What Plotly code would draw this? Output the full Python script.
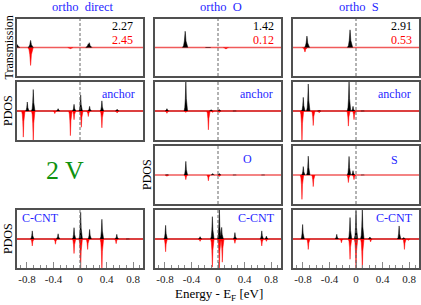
import plotly.graph_objects as go

W, H = 421, 305

# ---------------- data ----------------
E_RANGE = [-0.95, 0.95]
TICK_VALS = [-0.8, -0.4, 0, 0.4, 0.8]
TICK_TEXT = ["-0.8", "-0.4", "0", "0.4", "0.8"]
MINOR_TICKS = [-0.9, -0.7, -0.6, -0.5, -0.3, -0.2, -0.1, 0.1, 0.2, 0.3, 0.5, 0.6, 0.7, 0.9]

COL_TITLES = ["ortho  direct", "ortho  O", "ortho  S"]
T_BLACK = ["2.27", "1.42", "2.91"]
T_RED = ["2.45", "0.12", "0.53"]

# ortho direct
DIR_T_UP_E = [-0.945, -0.745, 0.125, 0.14]
DIR_T_UP_H = [0.10, 0.25, 0.13, 0.17]
DIR_T_DN_E = [-0.745, -0.145]
DIR_T_DN_H = [-0.63, -0.04]
DIR_A_UP_E = [-0.795, -0.705, -0.33, -0.09, 0.01, 0.145, 0.33, 0.56]
DIR_A_UP_H = [0.31, 0.74, 0.08, 0.23, 0.55, 0.16, 0.35, 0.06]
DIR_A_DN_E = [-0.855, -0.705, -0.38, -0.145, -0.09, 0.02, 0.125, 0.33, 0.56]
DIR_A_DN_H = [-0.90, -1.05, -0.09, -0.85, -0.30, -0.56, -0.19, -0.58, -0.07]
DIR_C_UP_E = [-0.72, -0.33, -0.09, 0.01, 0.145, 0.33, 0.555, 0.72]
DIR_C_UP_H = [0.28, 0.18, 0.39, 0.92, 0.33, 0.68, 0.16, 0.02]
DIR_C_DN_E = [-0.72, -0.37, -0.09, 0.01, 0.115, 0.33, 0.545]
DIR_C_DN_H = [-0.24, -0.18, -0.50, -1.05, -0.36, -1.05, -0.16]

# ortho O
O_T_UP_E = [-0.495, -0.15]
O_T_UP_H = [0.57, 0.02]
O_T_DN_E = [0.12]
O_T_DN_H = [-0.06]
O_A_UP_E = [-0.77, -0.485, -0.105, 0.02, 0.25]
O_A_UP_H = [0.08, 1.05, 0.04, 0.05, 0.02]
O_A_DN_E = [-0.77, -0.485, -0.145, -0.08, 0.02]
O_A_DN_H = [-0.08, -0.05, -0.65, -0.05, -0.05]
O_O_UP_E = [-0.77, -0.485, -0.08, 0.02, 0.25, 0.68]
O_O_UP_H = [0.03, 0.47, 0.05, 0.05, 0.02, 0.02]
O_O_DN_E = [-0.77, -0.485, -0.145, 0.02]
O_O_DN_H = [-0.04, -0.16, -0.20, -0.05]
O_C_UP_E = [-0.79, -0.27, -0.085, 0.02, 0.055, 0.255, 0.66, 0.73]
O_C_UP_H = [0.47, 0.08, 0.77, 1.05, 0.40, 0.22, 0.28, 0.10]
O_C_DN_E = [-0.79, -0.27, -0.085, 0.02, 0.065, 0.255, 0.66, 0.73]
O_C_DN_H = [-0.44, -0.08, -0.97, -1.05, -0.80, -0.15, -0.24, -0.08]

# ortho S
S_T_UP_E = [-0.74, -0.09]
S_T_UP_H = [0.40, 0.62]
S_T_DN_E = [-0.77]
S_T_DN_H = [-0.16]
S_A_UP_E = [-0.795, -0.72, -0.555, -0.105, -0.045, 0.1]
S_A_UP_H = [0.47, 0.93, 0.03, 1.05, 0.16, 0.02]
S_A_DN_E = [-0.815, -0.645, -0.555, -0.115, -0.03]
S_A_DN_H = [-1.05, -0.50, -0.06, -0.52, -0.30]
S_S_UP_E = [-0.795, -0.72, -0.105, -0.045, 0.1]
S_S_UP_H = [0.29, 0.65, 0.64, 0.15, 0.02]
S_S_DN_E = [-0.815, -0.645, -0.115, -0.03]
S_S_DN_H = [-0.84, -0.40, -0.26, -0.16]
S_C_UP_E = [-0.805, -0.29, -0.09, 0.0, 0.095, 0.21, 0.65, 0.72]
S_C_UP_H = [0.50, 0.16, 0.74, 0.97, 1.05, 0.07, 0.45, 0.05]
S_C_DN_E = [-0.72, -0.22, -0.09, 0.0, 0.095, 0.22, 0.73, 0.79]
S_C_DN_H = [-0.36, -0.13, -0.70, -1.05, -1.05, -0.10, -0.36, -0.05]

# ---------------- layout ----------------
FONT = "Liberation Serif"
BLUE = "#1f1fff"
GREEN = "#0f920f"
FRAME = "#505050"

COL_X = [(17, 143), (155, 281), (293, 419)]
ROW_Y = [(19, 76), (82, 140), (146, 204), (210, 268)]

# (col, row, up_e, up_h, dn_e, dn_h, kind)
PANELS = [
    (0, 0, DIR_T_UP_E, DIR_T_UP_H, DIR_T_DN_E, DIR_T_DN_H, "T"),
    (0, 1, DIR_A_UP_E, DIR_A_UP_H, DIR_A_DN_E, DIR_A_DN_H, "P"),
    (0, 3, DIR_C_UP_E, DIR_C_UP_H, DIR_C_DN_E, DIR_C_DN_H, "P"),
    (1, 0, O_T_UP_E, O_T_UP_H, O_T_DN_E, O_T_DN_H, "T"),
    (1, 1, O_A_UP_E, O_A_UP_H, O_A_DN_E, O_A_DN_H, "P"),
    (1, 2, O_O_UP_E, O_O_UP_H, O_O_DN_E, O_O_DN_H, "P"),
    (1, 3, O_C_UP_E, O_C_UP_H, O_C_DN_E, O_C_DN_H, "P"),
    (2, 0, S_T_UP_E, S_T_UP_H, S_T_DN_E, S_T_DN_H, "T"),
    (2, 1, S_A_UP_E, S_A_UP_H, S_A_DN_E, S_A_DN_H, "P"),
    (2, 2, S_S_UP_E, S_S_UP_H, S_S_DN_E, S_S_DN_H, "P"),
    (2, 3, S_C_UP_E, S_C_UP_H, S_C_DN_E, S_C_DN_H, "P"),
]

# spike glyph profile (style): relative offsets and relative heights
PROF_DX = [-1, -0.6, -0.3, -0.1, 0, 0.1, 0.3, 0.6, 1]
PROF_DY = [0, 0.12, 0.4, 0.85, 1, 0.85, 0.4, 0.12, 0]
HALF_W = {"T": 0.04, "P": 0.026}


def spikes(es, hs, w):
    xs, ys = [], []
    for e, h in zip(es, hs):
        xs += [e + d * w for d in PROF_DX] + [None]
        ys += [h * f for f in PROF_DY] + [None]
    return xs, ys


def px(x):
    return x / W


def py(y):
    return 1 - y / H


def note(text, x, y, color, size, xanchor="center", angle=0, pad=1):
    return dict(text=text, x=px(x), y=py(y), xref="paper", yref="paper",
                xanchor=xanchor, yanchor="middle", showarrow=False, textangle=angle,
                borderpad=pad, font=dict(color=color, size=size, family=FONT))


fig = go.Figure()
layout = dict(
    width=W, height=H, margin=dict(l=0, r=0, t=0, b=0),
    paper_bgcolor="white", plot_bgcolor="white", showlegend=False,
    font=dict(family=FONT, size=12, color="black"),
)
shapes = []
annotations = []

for i, (c, r, ue, uh, de, dh, kind) in enumerate(PANELS):
    n = i + 1
    xa = "x" if n == 1 else f"x{n}"
    ya = "y" if n == 1 else f"y{n}"
    x0, x1 = COL_X[c]
    y0, y1 = ROW_Y[r]
    w = HALF_W[kind]
    base_col = "#f05a5a" if r in (0, 2) else "#d00000"
    fig.add_trace(go.Scatter(x=list(E_RANGE), y=[0, 0], mode="lines",
                             line=dict(color=base_col, width=1.5),
                             xaxis=xa, yaxis=ya, hoverinfo="skip"))
    dx, dy = spikes(de, dh, w)
    fig.add_trace(go.Scatter(x=dx, y=dy, mode="lines", fill="toself",
                             fillcolor="#ff0000", line=dict(color="#ff0000", width=0.5),
                             xaxis=xa, yaxis=ya, hoverinfo="skip"))
    ux, uy = spikes(ue, uh, w)
    fig.add_trace(go.Scatter(x=ux, y=uy, mode="lines", fill="toself",
                             fillcolor="black", line=dict(color="black", width=0.5),
                             xaxis=xa, yaxis=ya, hoverinfo="skip"))
    bottom = r == 3
    xdict = dict(domain=[px(x0), px(x1)], range=list(E_RANGE), anchor=ya,
                 showline=True, mirror=True, linecolor=FRAME, linewidth=1.6,
                 showgrid=False, zeroline=False, fixedrange=True)
    if bottom:
        xdict.update(ticks="inside", ticklen=6, tickwidth=1, tickcolor="#888888",
                     tickmode="array", tickvals=TICK_VALS, ticktext=TICK_TEXT,
                     tickfont=dict(family=FONT, size=11, color="#222222"),
                     minor=dict(ticks="inside", ticklen=3, tickcolor="#888888",
                                tickmode="array", tickvals=MINOR_TICKS))
    else:
        xdict.update(ticks="", showticklabels=False)
    ydict = dict(domain=[py(y1), py(y0)], range=[-1, 1], anchor=xa,
                 showline=True, mirror=True, linecolor=FRAME, linewidth=1.6,
                 showgrid=False, zeroline=False, ticks="", showticklabels=False,
                 fixedrange=True)
    layout["xaxis" if n == 1 else f"xaxis{n}"] = xdict
    layout["yaxis" if n == 1 else f"yaxis{n}"] = ydict
    shapes.append(dict(type="line", xref=xa, yref=f"{ya} domain", x0=0, x1=0, y0=0, y1=1,
                       line=dict(color="#666666", width=1, dash="3px,2px")))

# column titles, transmission values, panel labels
for c in range(3):
    x0, x1 = COL_X[c]
    annotations.append(note(COL_TITLES[c], (x0 + x1) / 2 + 3, 7, BLUE, 12.5))
    rx = x1 - (9 if c == 0 else 6)
    annotations.append(note(T_BLACK[c], rx, 26, "black", 12, "right", pad=0))
    annotations.append(note(T_RED[c], rx, 40, "#ff0000", 12, "right", pad=0))
    annotations.append(note("anchor", x1 - 6, 94, BLUE, 12, "right"))
    if c == 0:
        annotations.append(note("C-CNT", x0 + 3, 217.5, BLUE, 12, "left"))
    else:
        annotations.append(note("C-CNT", x1 - 4, 217.5, BLUE, 12, "right"))

annotations.append(note("O", 248, 159, BLUE, 12))
annotations.append(note("S", 394, 160, BLUE, 12))

# y labels
for text, x, y in [("Transmission", 8, 47.5), ("PDOS", 8, 111), ("PDOS", 8, 239),
                   ("PDOS", 147, 175)]:
    annotations.append(note(text, x, y, "black", 12, angle=-90))

annotations.append(note("2 V", 65, 170.5, GREEN, 26))
annotations.append(note("Energy - E<sub>F</sub> [eV]", 219, 294, "black", 13))

layout["shapes"] = shapes
layout["annotations"] = annotations
fig.update_layout(**layout)
fig.write_html("out.html", config={"displayModeBar": False, "staticPlot": True},
               post_script="document.body.style.margin='0';document.body.style.overflow='hidden';")
